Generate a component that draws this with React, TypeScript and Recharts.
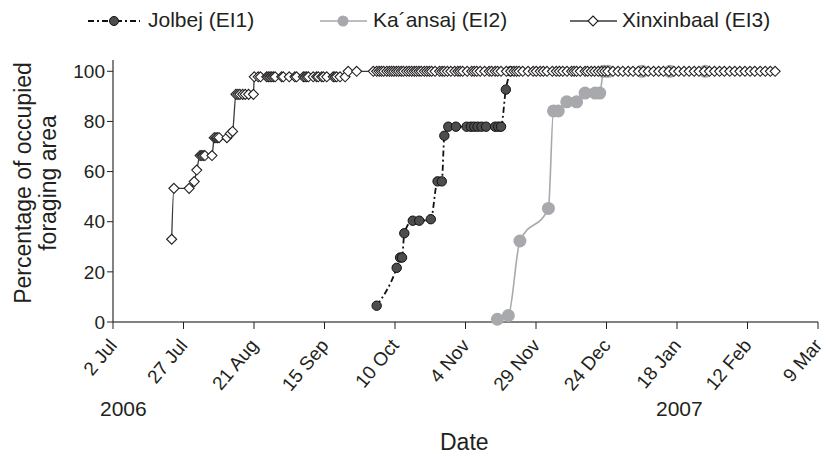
import React from 'react';
import { LineChart, Line, XAxis, YAxis } from 'recharts';

const FONT = '"Liberation Sans", Arial, Helvetica, sans-serif';
const TEXT = '#231f20';
const AXIS = '#58595b';

// x values are days counted from 2 Jul 2006
const xTicks = [0, 25, 50, 75, 100, 125, 150, 175, 200, 225, 250];
const xTickLabels = ['2 Jul', '27 Jul', '21 Aug', '15 Sep', '10 Oct', '4 Nov', '29 Nov', '24 Dec', '18 Jan', '12 Feb', '9 Mar'];
const yTicks = [0, 20, 40, 60, 80, 100];

// Jolbej (EI1)
const jolbejPoints = [
  [93.5, 6.5], [100.6, 21.6], [101.8, 25.7], [102.5, 25.7], [103.3, 35.4], [106.3, 40.4],
  [108.6, 40.4], [112.7, 41], [115.1, 56.1], [116.6, 56.1], [117.5, 74.3], [118.9, 77.9],
  [121.6, 77.9], [125.4, 77.9], [126.9, 77.9], [128.1, 77.9], [129.3, 77.9], [130.7, 77.9],
  [132.3, 77.9], [135.5, 77.9], [136.6, 77.9], [137.6, 77.9], [139.3, 92.7], [141, 100],
];

// Ka´ansaj (EI2)
const kaansajPoints = [
  [136.3, 1.1], [140.2, 2.6], [144.3, 32.3], [154.4, 45.3], [156.2, 84.2], [157.9, 84.2],
  [160.9, 87.8], [164.4, 87.8], [167.4, 91.3], [171, 91.3], [172.6, 91.3], [174, 100],
  [175.6, 100], [187.6, 100], [197.5, 100], [210, 100],
];

// Xinxinbaal (EI3)
const xinxinEarly = [
  [20.8, 33], [21.6, 53.3], [27, 53.3], [28.8, 56], [29.7, 60.6], [30.9, 66.4], [31.5, 66.4],
  [32, 66.4], [32.6, 66.4], [35.1, 66.4], [35.9, 73.5], [36.5, 73.5], [37, 73.5], [37.6, 73.5],
  [40.4, 73.5], [41.6, 75.2], [42.4, 76], [43.6, 90.8], [44.3, 90.8], [45, 90.8], [46, 90.8],
  [46.9, 90.8], [48.1, 90.8], [49.8, 90.8],
];
const xinxinPlateau = [
  [50.1, 97.8], [51.5, 97.8], [52.3, 97.8], [54.5, 97.8], [55.1, 97.8], [55.7, 97.8], [56.3, 97.8],
  [56.9, 97.8], [57.5, 97.8], [59.8, 97.8], [60.4, 97.8], [62.5, 97.8], [64.5, 97.8], [65.1, 97.8],
  [67.5, 97.8], [68.1, 97.8], [68.7, 97.8], [69.3, 97.8], [71, 97.8], [72.2, 97.8], [72.8, 97.8],
  [74, 97.8], [74.6, 97.8], [75.8, 97.8], [78.1, 97.8], [78.7, 97.8], [79.3, 97.8], [80.5, 97.8],
  [82.3, 97.8], [83.4, 100], [86.4, 100],
];
const xinxinFull = [
  [92.3, 100], [93.5, 100], [94.4, 100], [95.2, 100], [96, 100], [97.1, 100], [98, 100], [98.8, 100],
  [99.6, 100], [100.5, 100], [101.3, 100], [102.2, 100], [103, 100], [104.1, 100], [105, 100],
  [105.9, 100], [106.8, 100], [107.6, 100], [108.5, 100], [109.3, 100], [110.4, 100], [111.3, 100],
  [112.2, 100], [113, 100], [114.2, 100], [115.8, 100], [116.7, 100], [117.5, 100], [118.6, 100],
  [119.8, 100], [121.2, 100], [122.3, 100], [123.1, 100], [124, 100], [125.6, 100], [127.2, 100],
  [128.1, 100], [129, 100], [130.2, 100], [131.8, 100], [133.4, 100], [134.3, 100], [135.5, 100],
  [136.4, 100], [137.6, 100], [139.5, 100], [141, 100], [142.2, 100], [143.1, 100], [144, 100],
  [145.3, 100], [147.2, 100], [149, 100], [150.1, 100], [151.5, 100], [152.6, 100], [153.9, 100],
  [155.8, 100], [157.2, 100], [158.3, 100], [159.5, 100], [161, 100], [162.6, 100], [163.5, 100],
  [164.4, 100], [165.7, 100], [167.4, 100], [168.3, 100], [169.6, 100], [170.8, 100], [172.1, 100],
  [173.3, 100], [174.4, 100], [175.5, 100], [177.3, 100], [179.1, 100], [180.8, 100], [182.7, 100],
  [184.4, 100], [186.3, 100], [188.1, 100], [189.8, 100], [191.7, 100], [193.5, 100], [195.2, 100],
  [197.1, 100], [198.9, 100], [200.6, 100], [202.5, 100], [204.3, 100], [206.1, 100], [207.8, 100],
  [209.7, 100], [211.5, 100], [213.3, 100], [215.1, 100], [216.8, 100], [218.7, 100], [220.5, 100],
  [222.3, 100], [224.1, 100], [225.9, 100], [227.6, 100], [229.5, 100], [231.3, 100], [233.1, 100],
  [234.8, 100],
];

const toRows = (pts: number[][]) => pts.map(([day, pct]) => ({ day, pct }));
const jolbejData = toRows(jolbejPoints);
const kaansajData = toRows(kaansajPoints);
const xinxinData = toRows([...xinxinEarly, ...xinxinPlateau, ...xinxinFull]);

const JolbejDot = (props: any) => {
  const { cx, cy, index } = props;
  if (cx == null || cy == null) return null;
  return <circle key={`j${index}`} cx={cx} cy={cy} r={4.7} fill="#4d4d4f" stroke="#111" strokeWidth={1} />;
};

const KaansajDot = (props: any) => {
  const { cx, cy, index } = props;
  if (cx == null || cy == null) return null;
  return <circle key={`k${index}`} cx={cx} cy={cy} r={6.5} fill="#a7a9ac" />;
};

const Diamond = (props: any) => {
  const { cx, cy, index } = props;
  if (cx == null || cy == null) return null;
  const s = 5;
  return (
    <polygon
      key={`x${index}`}
      points={`${cx},${cy - s} ${cx + s},${cy} ${cx},${cy + s} ${cx - s},${cy}`}
      fill="#fff"
      stroke="#231f20"
      strokeWidth={1.1}
    />
  );
};

const DateTick = (props: any) => {
  const { x, payload } = props;
  const i = xTicks.indexOf(payload.value);
  const ax = x + 5;
  const ay = 346;
  return (
    <text
      x={ax}
      y={ay}
      transform={`rotate(-50, ${ax}, ${ay})`}
      textAnchor="end"
      fontSize={19}
      fill={TEXT}
      fontFamily={FONT}
    >
      {xTickLabels[i]}
    </text>
  );
};

const legendText: React.CSSProperties = {
  position: 'absolute',
  top: 8,
  fontFamily: FONT,
  fontSize: 21,
  color: TEXT,
  whiteSpace: 'nowrap',
};

export default function App() {
  return (
    <div style={{ position: 'absolute', left: 0, top: 0, width: 824, height: 466, background: '#fff' }}>
      <LineChart width={824} height={466} data={xinxinData} margin={{ top: 60, right: 6, bottom: 104, left: 73 }}>
        <XAxis
          type="number"
          dataKey="day"
          domain={[0, 250]}
          ticks={xTicks}
          interval={0}
          height={40}
          tick={<DateTick />}
          tickSize={7}
          stroke={AXIS}
          strokeWidth={1.5}
          tickLine={{ stroke: '#231f20', strokeWidth: 1 }}
        />
        <YAxis
          type="number"
          domain={[0, 104.5]}
          ticks={yTicks}
          interval={0}
          width={40}
          tickSize={6}
          tickMargin={2}
          stroke={AXIS}
          strokeWidth={1.5}
          tickLine={{ stroke: '#231f20', strokeWidth: 1 }}
          tick={{ fontSize: 19, fill: TEXT, fontFamily: FONT }}
        />
        <Line
          data={jolbejData}
          dataKey="pct"
          type="monotone"
          stroke="#111"
          strokeWidth={1.8}
          strokeDasharray="6 3 2 3"
          dot={<JolbejDot />}
          activeDot={false}
          isAnimationActive={false}
        />
        <Line
          data={kaansajData}
          dataKey="pct"
          type="monotone"
          stroke="#a7a9ac"
          strokeWidth={1.6}
          dot={<KaansajDot />}
          activeDot={false}
          isAnimationActive={false}
        />
        <Line
          data={xinxinData}
          dataKey="pct"
          type="monotone"
          stroke="#3a3a3c"
          strokeWidth={1.3}
          dot={<Diamond />}
          activeDot={false}
          isAnimationActive={false}
        />
      </LineChart>

      {/* legend */}
      <svg style={{ position: 'absolute', left: 0, top: 0 }} width={824} height={40}>
        <line x1={88} y1={21} x2={140} y2={21} stroke="#111" strokeWidth={1.8} strokeDasharray="6 3 2 3" />
        <circle cx={114} cy={21} r={4.5} fill="#4d4d4f" stroke="#111" />
        <line x1={320} y1={21} x2={367} y2={21} stroke="#a7a9ac" strokeWidth={1.6} />
        <circle cx={343} cy={21} r={5.5} fill="#a7a9ac" />
        <line x1={570} y1={21} x2={617} y2={21} stroke="#3a3a3c" strokeWidth={1.3} />
        <polygon points="593,16 598,21 593,26 588,21" fill="#fff" stroke="#231f20" strokeWidth={1.1} />
      </svg>
      <div style={{ ...legendText, left: 148 }}>Jolbej (EI1)</div>
      <div style={{ ...legendText, left: 373 }}>Ka´ansaj (EI2)</div>
      <div style={{ ...legendText, left: 622 }}>Xinxinbaal (EI3)</div>

      {/* axis titles */}
      <div
        style={{
          position: 'absolute',
          left: 36,
          top: 183,
          transform: 'translate(-50%, -50%) rotate(-90deg)',
          fontFamily: FONT,
          fontSize: 23,
          lineHeight: '25px',
          color: TEXT,
          textAlign: 'center',
          whiteSpace: 'nowrap',
        }}
      >
        Percentage of occupied
        <br />
        foraging area
      </div>
      <div style={{ position: 'absolute', left: 100, top: 397, fontFamily: FONT, fontSize: 21, color: TEXT }}>2006</div>
      <div style={{ position: 'absolute', left: 656, top: 397, fontFamily: FONT, fontSize: 21, color: TEXT }}>2007</div>
      <div style={{ position: 'absolute', left: 440, top: 429, fontFamily: FONT, fontSize: 23, color: TEXT }}>Date</div>
    </div>
  );
}
